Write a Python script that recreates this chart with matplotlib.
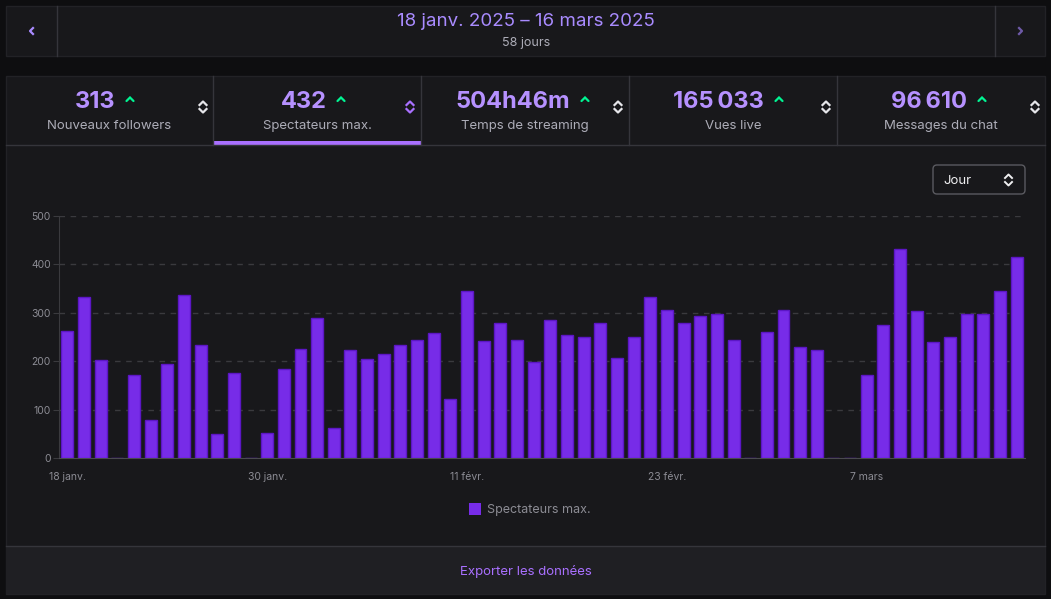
import matplotlib
matplotlib.use("Agg")
import matplotlib.pyplot as plt
import numpy as np
from matplotlib.patches import Rectangle, FancyBboxPatch

plt.rcParams['font.family'] = ['Inter', 'DejaVu Sans']

# ---------------- data ----------------
values = [262, 333, 202, 0, 172, 78, 195, 336, 234, 50, 175, 0, 52, 184, 225, 289, 61, 224, 205,
          214, 234, 243, 258, 121, 346, 241, 279, 243, 199, 286, 254, 251, 278, 206, 249, 333,
          305, 279, 293, 297, 244, 0, 260, 306, 230, 224, 0, 0, 172, 274, 432, 303, 240, 250,
          297, 297, 345, 415]
tick_idx = [0, 12, 24, 36, 48]
tick_labels = ["18 janv.", "30 janv.", "11 févr.", "23 févr.", "7 mars"]
y_ticks = [0, 100, 200, 300, 400, 500]
stat_values = ["313", "432", "504h46m", "165\u202f033", "96\u202f610"]
stat_labels = ["Nouveaux followers", "Spectateurs max.", "Temps de streaming", "Vues live", "Messages du chat"]
title = "18 janv. 2025 – 16 mars 2025"
subtitle = "58 jours"
series_name = "Spectateurs max."

# ---------------- colours ----------------
BG = '#0e0e10'
PANEL = '#18181b'
FOOT = '#1f1f23'
LINE = '#35353b'
PURPLE = '#772ce8'
PURPLE_EDGE = '#5c16c5'
LAV = '#a98bff'
VAL = '#b691ff'
GREY = '#adadb8'
TICK = '#8c8c94'
GREEN = '#00f593'

W, H = 1051, 599
fig = plt.figure(figsize=(W / 100, H / 100), dpi=100, facecolor=BG)

ov = fig.add_axes([0, 0, 1, 1], zorder=0)
ov.set_xlim(0, W)
ov.set_ylim(H, 0)
ov.axis('off')

# header panel
ov.add_patch(Rectangle((6, 6), 1039, 50, facecolor=PANEL, edgecolor='#222226', lw=1))
ov.plot([57, 57], [6, 56], color=LINE, lw=1)
ov.plot([995, 995], [6, 56], color=LINE, lw=1)
ov.plot([33, 30, 33], [28, 31, 34], color=LAV, lw=1.6)
ov.plot([1019, 1022, 1019], [28, 31, 34], color='#6e5aa8', lw=1.6)
ov.text(526, 21.5, title, color=LAV, fontsize=13.5, ha='center', va='center')
ov.text(526, 43, subtitle, color=GREY, fontsize=9, ha='center', va='center')

# main panel
ov.add_patch(Rectangle((6, 76), 1039, 518, facecolor=PANEL, edgecolor='#222226', lw=1))
ov.add_patch(Rectangle((6, 546), 1039, 48, facecolor=FOOT, edgecolor='none'))
ov.plot([6, 1045], [545.5, 545.5], color=LINE, lw=1)
ov.plot([6, 1045], [145, 145], color=LINE, lw=1)
for xd in [213, 421, 629, 837]:
    ov.plot([xd, xd], [76, 145], color=LINE, lw=1)
ov.add_patch(Rectangle((213, 141), 208, 3.5, facecolor='#a970ff', edgecolor='none'))

value_right = [116, 327, 570, 764, 967]
caret_x = [130, 341, 585, 779, 982]
tab_centers = [109.5, 317, 525, 733, 941]
sort_x = [203, 410, 618, 826, 1035]
for i in range(5):
    ov.text(value_right[i], 102, stat_values[i], color=VAL, fontsize=17, fontweight='bold',
            ha='right', va='center')
    cx = caret_x[i]
    ov.plot([cx - 3.5, cx, cx + 3.5], [101, 97.5, 101], color=GREEN, lw=1.6,
            solid_capstyle='round', solid_joinstyle='miter')
    ov.text(tab_centers[i], 126, stat_labels[i], color=GREY, fontsize=9.5, ha='center', va='center')
    sx = sort_x[i]
    sc = '#a970ff' if i == 1 else '#e6e6ea'
    ov.plot([sx - 3.5, sx, sx + 3.5], [105, 101.5, 105], color=sc, lw=1.6)
    ov.plot([sx - 3.5, sx, sx + 3.5], [109, 112.5, 109], color=sc, lw=1.6)

# dropdown
ov.add_patch(FancyBboxPatch((933, 165), 92, 29, boxstyle="round,pad=0,rounding_size=4",
                            facecolor=PANEL, edgecolor='#5a5a60', lw=1))
ov.text(943, 181, "Jour", color='#efeff1', fontsize=9.5, ha='left', va='center')
ov.plot([1005, 1008.5, 1012], [178, 174.5, 178], color='#efeff1', lw=1.4)
ov.plot([1005, 1008.5, 1012], [182, 185.5, 182], color='#efeff1', lw=1.4)

# legend
ov.add_patch(Rectangle((469, 503), 12, 12, facecolor=PURPLE, edgecolor='none'))
ov.text(487, 509.5, series_name, color=TICK, fontsize=9, ha='left', va='center')

# footer
ov.text(526, 571.5, "Exporter les données", color='#a970ff', fontsize=9.5, ha='center', va='center')

# ---------------- chart ----------------
left, right, top, bottom = 59, 1025, 216, 458
ax = fig.add_axes([left / W, (H - bottom) / H, (right - left) / W, (bottom - top) / H], zorder=2)
ax.set_facecolor('none')
x = np.arange(len(values))
ax.bar(x, values, width=0.72, color=PURPLE, edgecolor=PURPLE_EDGE, linewidth=1, zorder=3)
ax.set_xlim(-0.5, len(values) - 0.5)
ax.set_ylim(0, 500)
ax.set_yticks(y_ticks)
ax.set_yticklabels([str(v) for v in y_ticks])
ax.set_xticks(tick_idx)
ax.set_xticklabels(tick_labels)
for yv in y_ticks[1:]:
    ax.axhline(yv, color='#3a3a3e', lw=1, dashes=(4, 4), zorder=1)
for s in ['top', 'right']:
    ax.spines[s].set_visible(False)
ax.spines['left'].set_color('#3a3a3e')
ax.spines['bottom'].set_color('#4a4a50')
ax.tick_params(axis='y', colors='#3a3a3e', labelcolor=TICK, labelsize=7.5, length=4, pad=2)
ax.tick_params(axis='x', length=0, labelcolor=TICK, labelsize=7.5, pad=10)

fig.savefig("out.png", dpi=100, facecolor=BG)
